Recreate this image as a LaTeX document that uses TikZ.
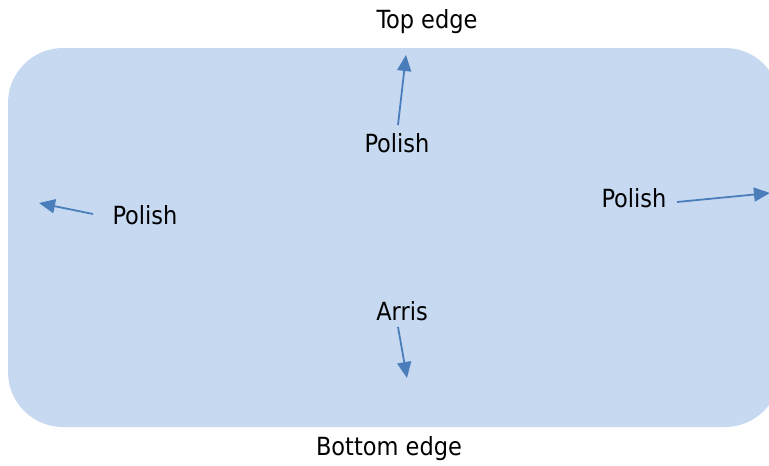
\documentclass[tikz,border=0pt]{standalone}
\usepackage{fontspec}
\setmainfont{DejaVu Sans Condensed}
\usetikzlibrary{arrows.meta}
\definecolor{panel}{HTML}{C6D9F1}
\definecolor{arrowblue}{HTML}{4A7EBB}
\tikzset{
  lbl/.style={font=\fontsize{25}{28}\selectfont, inner sep=0pt, text=black},
  ptr/.style={draw=arrowblue, line width=1.8pt, -{Triangle[length=16pt,width=14pt]}}
}
\begin{document}
\begin{tikzpicture}[x=1pt,y=-1pt]
\useasboundingbox (0,0) rectangle (769,466);
\clip (0,0) rectangle (769,466);
\fill[panel, rounded corners=55pt] (8,48) rectangle (780,427);
\node[lbl] (top) at (427,22) {Top edge};
\node[lbl] (bottom) at (389,449) {Bottom edge};
\node[lbl] (ptop) at (397,143) {Polish};
\node[lbl] (pleft) at (145,215) {Polish};
\node[lbl] (pright) at (634,198) {Polish};
\node[lbl] (arris) at (402,311) {Arris};
\coordinate (t1) at (398,125); \coordinate (h1) at (406,55);
\coordinate (t2) at (93,214); \coordinate (h2) at (39,203);
\coordinate (t3) at (677,202); \coordinate (h3) at (770,193);
\coordinate (t4) at (398,327); \coordinate (h4) at (407,378);
\draw[ptr] (t1) -- (h1);
\draw[ptr] (t2) -- (h2);
\draw[ptr] (t3) -- (h3);
\draw[ptr] (t4) -- (h4);
\end{tikzpicture}
\end{document}
